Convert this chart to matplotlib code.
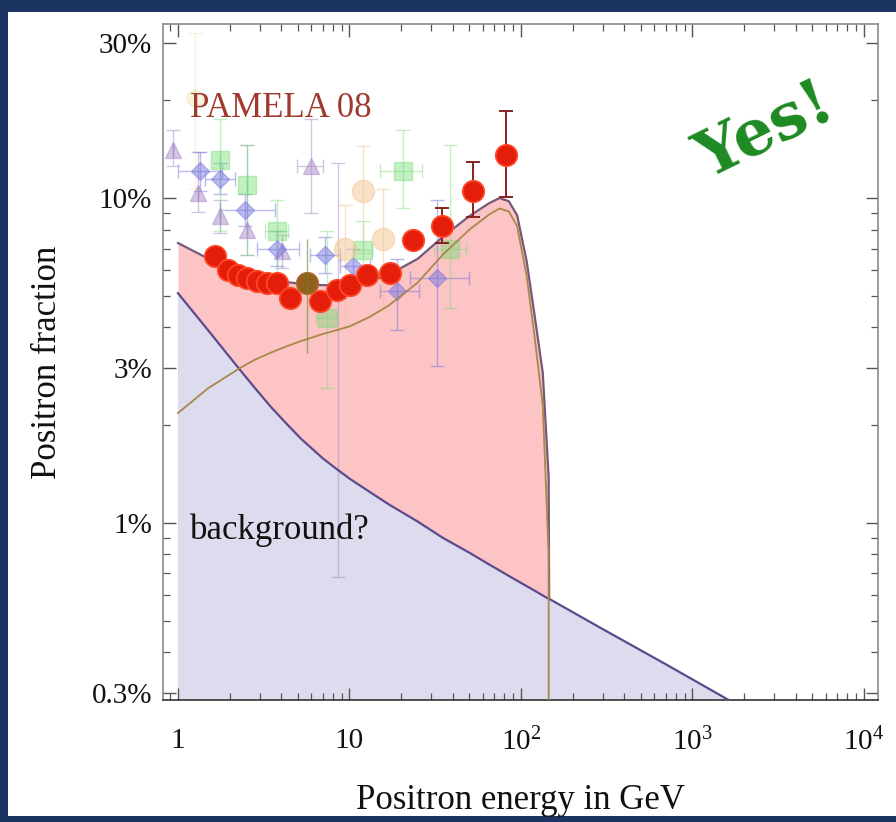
import numpy as np
import matplotlib
matplotlib.use("Agg")
import matplotlib.pyplot as plt
from matplotlib.patches import Rectangle
from matplotlib.ticker import FixedLocator, NullFormatter, LogLocator

# ---------------- data (percent) ----------------
# model curves on a common energy grid (GeV)
model_E = [1, 1.5, 2.3, 2.8, 3.5, 4.3, 5.2, 6, 7, 8.5, 10, 13, 17, 25, 35, 50, 65, 75, 85, 95, 108,
           120, 134, 145, 146, 300, 700, 1570, 12000]
background = [5.10, 3.92, 2.96, 2.61, 2.27, 2.02, 1.82, 1.70, 1.58, 1.46, 1.37, 1.25, 1.14, 1.01,
              0.90, 0.81, 0.746, 0.714, 0.687, 0.664, 0.639, 0.619, 0.598, 0.584, 0.584, 0.471,
              0.367, 0.288, 0.158]
signal = [2.18, 2.6, 3.0, 3.18, 3.35, 3.5, 3.63, 3.72, 3.82, 3.93, 4.03, 4.3, 4.68, 5.5, 6.7, 8.0,
          8.9, 9.3, 9.1, 8.2, 5.75, 3.75, 2.3, 0.8, 0.0, 0.0, 0.0, 0.0, 0.0]

# PAMELA 08
pam_E = [1.64, 1.96, 2.24, 2.53, 2.89, 3.30, 3.78, 4.50, 5.65, 6.73, 8.46, 10.07, 12.65, 17.2, 23.5,
         34.6, 52.5, 81.8]
pam_y = [6.64, 6.01, 5.80, 5.68, 5.56, 5.48, 5.48, 4.93, 5.48, 4.82, 5.21, 5.40, 5.80, 5.88, 7.43,
         8.20, 10.5, 13.6]
pam_lo = [6.44, 5.83, 5.63, 5.51, 5.39, 5.31, 5.31, 4.77, 5.31, 4.66, 5.03, 5.20, 5.57, 5.62, 7.2,
          7.3, 8.75, 10.1]
pam_hi = [6.84, 6.19, 5.97, 5.85, 5.73, 5.65, 5.65, 5.09, 5.65, 4.98, 5.39, 5.60, 6.03, 6.14, 7.65,
          9.3, 12.9, 18.5]

# older experiments (faint)
tri_E = [0.935, 1.31, 1.76, 2.53, 4.04, 5.96, 8.57]
tri_y = [14.1, 10.4, 8.8, 8.0, 6.87, 12.6, 5.2]
tri_lo = [12.6, 9.1, 7.8, 6.7, 6.1, 9.0, 0.68]
tri_hi = [16.2, 13.9, 9.9, 14.6, 7.7, 17.6, 12.8]
tri_Elo = [0.935, 1.31, 1.76, 2.53, 4.04, 4.94, 8.57]
tri_Ehi = [0.935, 1.31, 1.76, 2.53, 4.04, 7.0, 8.57]

dia_E = [1.34, 1.76, 2.46, 3.78, 7.19, 10.5, 18.9, 32.5]
dia_y = [12.1, 11.5, 9.2, 7.0, 6.68, 6.18, 5.18, 5.68]
dia_lo = [10.5, 10.3, 8.2, 6.2, 5.9, 5.5, 3.94, 3.05]
dia_hi = [13.9, 12.8, 10.3, 7.9, 7.6, 7.0, 6.5, 9.9]
dia_Elo = [1.0, 1.44, 1.76, 2.9, 5.9, 8.8, 15.0, 22.5]
dia_Ehi = [1.8, 2.15, 3.68, 5.1, 8.8, 13.1, 25.6, 50.0]

sq_E = [1.76, 2.53, 3.78, 7.39, 12.0, 20.5, 38.6]
sq_y = [13.1, 11.0, 7.93, 4.28, 6.92, 12.1, 7.0]
sq_lo = [7.9, 6.7, 5.7, 2.6, 5.5, 9.3, 4.6]
sq_hi = [17.6, 14.6, 9.9, 7.9, 8.5, 16.2, 14.6]
sq_Elo = [1.76, 2.53, 3.2, 6.4, 10.5, 15.0, 31.0]
sq_Ehi = [1.76, 2.53, 4.4, 8.5, 13.5, 26.5, 48.0]

# point hidden behind the PAMELA label, and the one overlapping a PAMELA dot
hid_E = [1.26, 5.65]
hid_y = [20.3, 5.48]
hid_lo = [10.7, 3.34]
hid_hi = [32.2, 7.5]

circ_E = [9.4, 12.0, 15.7]
circ_y = [7.0, 10.5, 7.5]
circ_lo = [4.0, 6.8, 4.5]
circ_hi = [9.5, 14.5, 10.7]

xticks = [1, 10, 100, 1000, 10000]
xtick_labels = ["1", "10", r"$\mathregular{10^{2}}$", r"$\mathregular{10^{3}}$", r"$\mathregular{10^{4}}$"]
yticks = [0.3, 1, 3, 10, 30]
ytick_labels = ["0.3%", "1%", "3%", "10%", "30%"]

# ---------------- figure ----------------
serif = "Liberation Serif"
plt.rcParams["font.family"] = serif

W, H = 896, 822
fig = plt.figure(figsize=(W / 100, H / 100), dpi=100)
fig.patch.set_facecolor("#1b3462")
fig.patches.append(Rectangle((8 / W, 1 - 816 / H), (W - 8) / W, (816 - 12) / H,
                             transform=fig.transFigure, facecolor="white", edgecolor="none", zorder=-5))

ax = fig.add_axes([163 / W, 1 - 700 / H, (878 - 163) / W, (700 - 24) / H])
ax.set_xscale("log")
ax.set_yscale("log")
ax.set_xlim(0.818, 12070)
ax.set_ylim(0.285, 34.4)
ax.set_facecolor("white")

E = np.array(model_E)
bg = np.array(background)
sig = np.array(signal)
total = bg + sig
k = int(np.argmax(sig == 0))          # index where the signal ends

ax.fill_between(E, 0.01, bg, color="#dcdcee", lw=0, zorder=1)
ax.fill_between(E[:k + 1], bg[:k + 1], total[:k + 1], color="#fcc4c4", lw=0, zorder=1)
ax.plot(E, bg, color="#5c4a8c", lw=1.6, zorder=3)
ax.plot(E[:k + 1], total[:k + 1], color="#76587a", lw=1.6, zorder=3)
sig_plot = np.where(sig > 0, sig, 1e-4)
ax.plot(E[:k + 1], sig_plot[:k + 1], color="#a8884a", lw=1.3, zorder=3)


def faint(xs, ys, lo, hi, elo, ehi, marker, color, ms, alpha, z=2):
    xs = np.array(xs); ys = np.array(ys)
    yerr = [ys - np.array(lo), np.array(hi) - ys]
    xerr = None
    if elo is not None:
        xerr = [xs - np.array(elo), np.array(ehi) - xs]
    ax.errorbar(xs, ys, yerr=yerr, xerr=xerr, fmt=marker, color=color, ms=ms,
                mec=color, elinewidth=1.0, capsize=5, capthick=1.0, alpha=alpha, zorder=z)

faint(tri_E, tri_y, tri_lo, tri_hi, tri_Elo, tri_Ehi, "^", "#a98cc8", 12, 0.5)
faint(dia_E, dia_y, dia_lo, dia_hi, dia_Elo, dia_Ehi, "D", "#7a78e0", 9, 0.5)
faint(sq_E, sq_y, sq_lo, sq_hi, sq_Elo, sq_Ehi, "s", "#72dc72", 13, 0.42)
faint(circ_E, circ_y, circ_lo, circ_hi, None, None, "o", "#f2c690", 16, 0.5)
faint(hid_E[:1], hid_y[:1], hid_lo[:1], hid_hi[:1], None, None, "o", "#e8d890", 12, 0.3)

py = np.array(pam_y)
ax.errorbar(pam_E, pam_y, yerr=[py - np.array(pam_lo), np.array(pam_hi) - py], fmt="none",
            ecolor="#8a2020", elinewidth=1.4, capsize=5, capthick=1.4, zorder=4)
ax.plot(pam_E, pam_y, "o", color="#e41e0a", ms=15.5, mec="#ff4a2a", mew=1.2, zorder=5)
# olive overlap point
ax.errorbar(hid_E[1:], hid_y[1:], yerr=[[hid_y[1] - hid_lo[1]], [hid_hi[1] - hid_y[1]]],
            fmt="o", color="#5f8a2a", ms=15, alpha=0.6, elinewidth=1, zorder=6)

# axes styling
for s in ax.spines.values():
    s.set_color("#8a8a8a")
    s.set_linewidth(1.2)
ax.spines["bottom"].set_color("#333333")
ax.xaxis.set_major_locator(FixedLocator(xticks))
ax.set_xticklabels(xtick_labels)
ax.xaxis.set_minor_locator(LogLocator(base=10, subs=np.arange(2, 10)))
ax.xaxis.set_minor_formatter(NullFormatter())
ax.yaxis.set_major_locator(FixedLocator(yticks))
ax.set_yticklabels(ytick_labels)
ax.yaxis.set_minor_locator(LogLocator(base=10, subs=np.arange(1, 10)))
ax.yaxis.set_minor_formatter(NullFormatter())
ax.tick_params(which="both", direction="in", top=True, right=True, color="#555555")
ax.tick_params(which="major", length=9, width=1.0, labelsize=21)
ax.tick_params(axis="x", which="major", pad=20)
ax.tick_params(axis="y", which="major", pad=8)
ax.tick_params(which="minor", length=5, width=0.9)
for lab in ax.get_xticklabels() + ax.get_yticklabels():
    lab.set_color("#111111")

ax.set_xlabel("Positron energy in GeV", fontsize=25, labelpad=20, color="#111111")
ax.set_ylabel("Positron fraction", fontsize=25, labelpad=20, color="#111111")

ax.text(1.17, 18.9, "PAMELA 08", fontsize=25, color="#a03a2c",
        ha="left", va="center", zorder=7)
ax.text(1.17, 0.95, "background?", fontsize=25, color="#111111",
        ha="left", va="center", zorder=7)
ax.text(2650, 16.0, "Yes!", fontsize=46, fontfamily="DejaVu Serif", fontweight="bold",
        color="#1e8a22", rotation=26, ha="center", va="center", zorder=7)

fig.savefig("out.png", dpi=100, facecolor=fig.get_facecolor())
